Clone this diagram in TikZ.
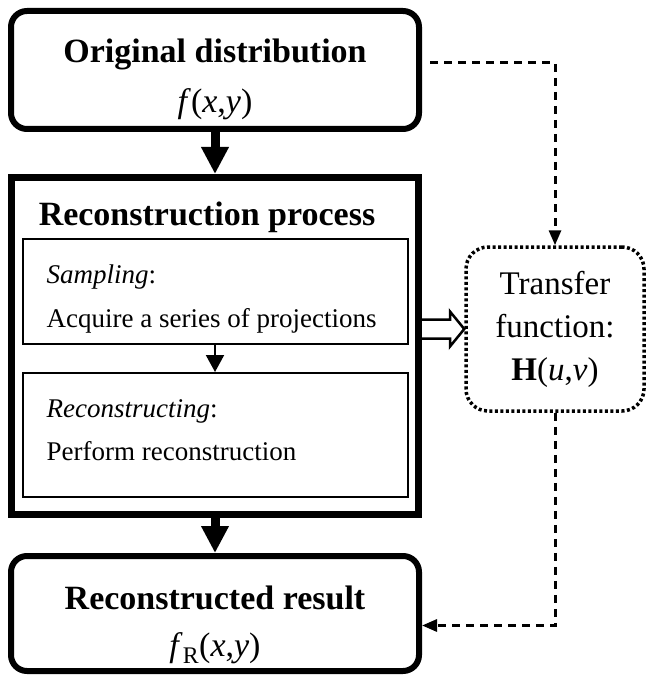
\documentclass[tikz,border=0pt]{standalone}
\usepackage{fontspec}
\setmainfont{Liberation Serif}
\usepackage{tikz}
\usetikzlibrary{positioning,arrows.meta,calc}

\begin{document}
\begin{tikzpicture}[
  x=1pt, y=1pt,
  mainbox/.style={draw, line width=6pt, rounded corners=16pt, inner sep=0pt,
              minimum width=408pt, minimum height=118pt},
  procbox/.style={draw, line width=7pt, inner sep=0pt,
              minimum width=407pt, minimum height=337pt},
  stepbox/.style={draw, line width=2pt, inner sep=0pt, minimum width=385pt},
  tfbox/.style={draw, line width=3.5pt, dash pattern=on 3pt off 2.5pt,
              rounded corners=22pt, minimum width=178pt, minimum height=164pt,
              align=center, font=\fontsize{33}{43}\selectfont},
  titletext/.style={font=\fontsize{34}{40}\selectfont\bfseries, inner sep=0pt, anchor=base},
  formtext/.style={font=\fontsize{34}{40}\selectfont, inner sep=0pt, anchor=base},
  steptext/.style={font=\fontsize{27}{32}\selectfont, inner sep=0pt, anchor=base west},
  bigarrow/.style={-{Triangle[length=27pt, width=26pt]}, line width=9pt},
  smallarrow/.style={-{Triangle[length=17pt, width=18pt]}, line width=2pt},
  dasharrow/.style={-{Triangle[length=15pt, width=12pt]}, line width=3pt,
              dash pattern=on 8pt off 6pt},
  hollowarrow/.style={line width=2.5pt, line join=miter}
]
\useasboundingbox (0,0) rectangle (646,-679);

\node[mainbox] (orig) at (215,-70) {};
\node[procbox, below=42pt of orig] (proc) {};
\node[mainbox, minimum height=115pt, below=35pt of proc] (result) {};
\node[stepbox, minimum height=105pt, below=64pt of proc.north] (sample) {};
\node[stepbox, minimum height=124pt, below=27pt of sample] (recon) {};
\node[tfbox] (tf) at (555,-329) {Transfer\\function:\\\textbf{H}(\textit{u},\textit{v})};

% texts inside the boxes
\node[titletext] (origname) at ([yshift=-55pt]orig.north) {Original distribution};
\node[formtext] (origfn) at ([yshift=-50pt]origname.base) {\textit{f}(\textit{x},\textit{y})};
\node[titletext] (proctitle) at ([shift={(-8pt,-51pt)}]proc.north) {Reconstruction process};
\node[steptext] (samplename) at ([shift={(25pt,-45pt)}]sample.north west) {\textit{Sampling}:};
\node[steptext] (sampletext) at ([yshift=-44pt]samplename.base west) {Acquire a series of projections};
\node[steptext] (reconname) at ([shift={(25pt,-45pt)}]recon.north west) {\textit{Reconstructing}:};
\node[steptext] (recontext) at ([yshift=-43pt]reconname.base west) {Perform reconstruction};
\node[titletext] (resultname) at ([yshift=-56pt]result.north) {Reconstructed result};
\node[formtext] (resultfn) at ([yshift=-47pt]resultname.base) {\textit{f}\textsubscript{R}(\textit{x},\textit{y})};

% flow
\draw[bigarrow] (orig) -- (proc);
\draw[bigarrow] (proc) -- (result);
\draw[smallarrow] (sample) -- (recon);
\draw[dasharrow] ([shift={(8pt,7pt)}]orig.east) -| (tf.north);
\draw[dasharrow] (tf.south) |- ([yshift=-12pt]result.east);

% hollow arrow to the transfer function
\coordinate (hfrom) at (proc.east |- tf.west);
\draw[hollowarrow] ([yshift=9.5pt]hfrom) -- ++(28,0) -- ++(0,8) -- (tf.west)
  -- ([shift={(28pt,-17.5pt)}]hfrom) -- ++(0,8) -- ([yshift=-9.5pt]hfrom);
\end{tikzpicture}
\end{document}
